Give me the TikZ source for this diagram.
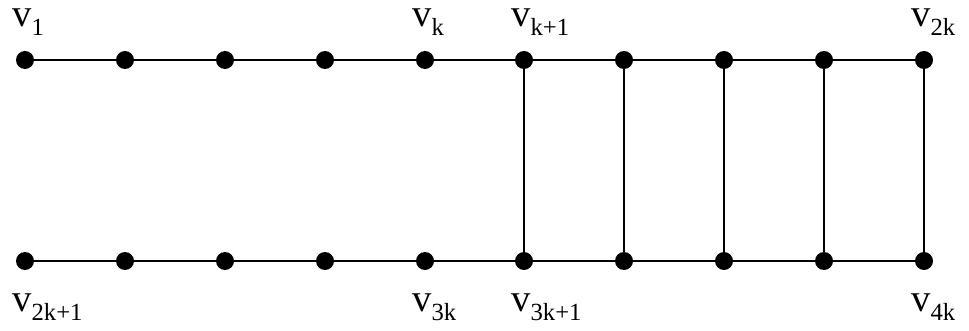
\documentclass[tikz,border=0pt]{standalone}
\usepackage{fontspec}
\setmainfont{Liberation Serif}
\usetikzlibrary{positioning}

\newcommand{\vname}[1]{{\fontsize{29}{31}\selectfont v}\raisebox{-6.75pt}{\fontsize{18.5}{20}\selectfont #1}}

\begin{document}
\begin{tikzpicture}[
    x=0.75pt, y=-0.75pt,
    vertex/.style={circle, fill=black, inner sep=0pt, minimum size=13.5pt},
    edge/.style={line width=1.2pt},
    vlab/.style={inner sep=0pt, anchor=base west}
  ]
  \useasboundingbox (0,0) rectangle (969,331);

  % the two rows of vertices
  \foreach \i/\x in {1/25,2/125,3/225,4/325,5/425,6/524,7/624,8/724,9/824,10/924} {
    \node[vertex] (t\i) at (\x,60) {};
    \node[vertex] (b\i) at (\x,261) {};
  }

  % paths
  \foreach \i [evaluate=\i as \j using int(\i+1)] in {1,...,9} {
    \draw[edge] (t\i) -- (t\j);
    \draw[edge] (b\i) -- (b\j);
  }

  % rungs of the ladder
  \foreach \i in {6,...,10}
    \draw[edge] (t\i) -- (b\i);

  % labels
  \node[vlab] (lt1) at ([shift={(-13,-33)}]t1) {\vname{1}};
  \node[vlab] (lt5) at ([shift={(-13,-33)}]t5) {\vname{k}};
  \node[vlab] (lt6) at ([shift={(-13,-33)}]t6) {\vname{k+1}};
  \node[vlab] (lt10) at ([shift={(-13,-33)}]t10) {\vname{2k}};
  \node[vlab] (lb1) at ([shift={(-13,50)}]b1) {\vname{2k+1}};
  \node[vlab] (lb5) at ([shift={(-13,50)}]b5) {\vname{3k}};
  \node[vlab] (lb6) at ([shift={(-13,50)}]b6) {\vname{3k+1}};
  \node[vlab] (lb10) at ([shift={(-13,50)}]b10) {\vname{4k}};
\end{tikzpicture}
\end{document}
